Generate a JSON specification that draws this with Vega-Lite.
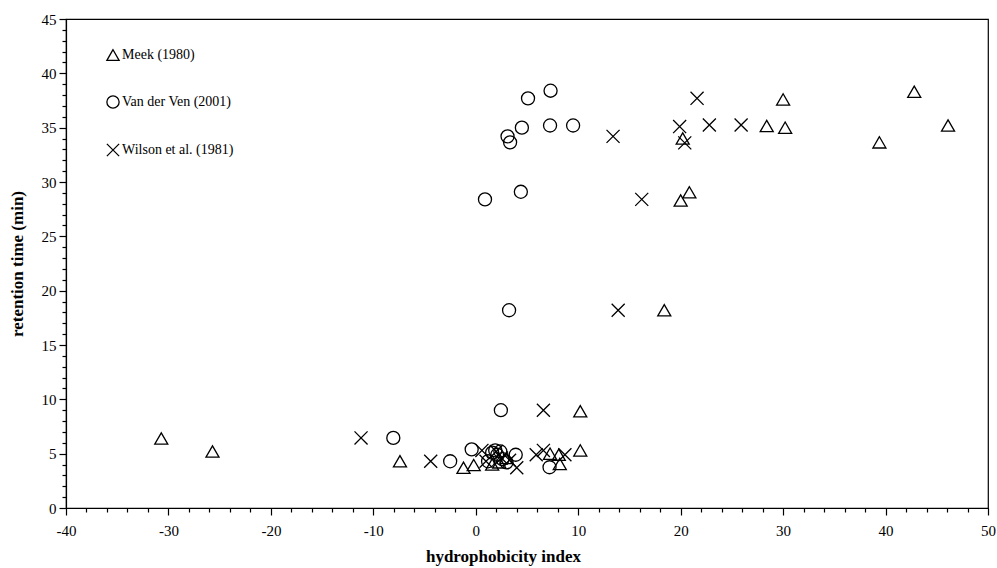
{
  "$schema": "https://vega.github.io/schema/vega-lite/v6.json",
  "width": 922,
  "height": 489,
  "autosize": {"type": "none"},
  "padding": {"left": 66, "top": 19, "right": 9, "bottom": 60},
  "background": "white",
  "config": {
    "view": {"stroke": "black", "strokeWidth": 1.2},
    "font": "Liberation Serif",
    "axis": {"labelFont": "Liberation Serif", "titleFont": "Liberation Serif", "domainColor": "black", "tickColor": "black", "labelColor": "black", "titleColor": "black", "grid": false}
  },
  "data": {
    "values": [
      {"study": "Meek (1980)", "x": 42.8, "y": 38.3},
      {"study": "Meek (1980)", "x": 30.0, "y": 37.6},
      {"study": "Meek (1980)", "x": 28.4, "y": 35.15},
      {"study": "Meek (1980)", "x": 30.2, "y": 35.0},
      {"study": "Meek (1980)", "x": 46.1, "y": 35.2},
      {"study": "Meek (1980)", "x": 20.2, "y": 34.0},
      {"study": "Meek (1980)", "x": 39.4, "y": 33.65},
      {"study": "Meek (1980)", "x": 20.85, "y": 29.05},
      {"study": "Meek (1980)", "x": 20.0, "y": 28.3},
      {"study": "Meek (1980)", "x": 18.4, "y": 18.2},
      {"study": "Meek (1980)", "x": 10.2, "y": 8.9},
      {"study": "Meek (1980)", "x": -30.7, "y": 6.4},
      {"study": "Meek (1980)", "x": -25.7, "y": 5.2},
      {"study": "Meek (1980)", "x": 10.2, "y": 5.3},
      {"study": "Meek (1980)", "x": -7.4, "y": 4.3},
      {"study": "Meek (1980)", "x": -1.2, "y": 3.7},
      {"study": "Meek (1980)", "x": -0.2, "y": 3.95},
      {"study": "Meek (1980)", "x": 1.6, "y": 4.0},
      {"study": "Meek (1980)", "x": 2.3, "y": 4.2},
      {"study": "Meek (1980)", "x": 3.0, "y": 4.6},
      {"study": "Meek (1980)", "x": 7.25, "y": 5.0},
      {"study": "Meek (1980)", "x": 8.1, "y": 4.9},
      {"study": "Meek (1980)", "x": 8.2, "y": 4.05},
      {"study": "Van der Ven (2001)", "x": 7.3, "y": 38.4},
      {"study": "Van der Ven (2001)", "x": 5.1, "y": 37.7},
      {"study": "Van der Ven (2001)", "x": 4.5, "y": 35.0},
      {"study": "Van der Ven (2001)", "x": 7.25, "y": 35.2},
      {"study": "Van der Ven (2001)", "x": 9.5, "y": 35.2},
      {"study": "Van der Ven (2001)", "x": 3.1, "y": 34.2},
      {"study": "Van der Ven (2001)", "x": 3.35, "y": 33.65},
      {"study": "Van der Ven (2001)", "x": 4.4, "y": 29.1},
      {"study": "Van der Ven (2001)", "x": 0.9, "y": 28.4},
      {"study": "Van der Ven (2001)", "x": 3.25, "y": 18.2},
      {"study": "Van der Ven (2001)", "x": 2.45, "y": 9.0},
      {"study": "Van der Ven (2001)", "x": -8.05, "y": 6.45},
      {"study": "Van der Ven (2001)", "x": -2.5, "y": 4.3},
      {"study": "Van der Ven (2001)", "x": -0.4, "y": 5.4},
      {"study": "Van der Ven (2001)", "x": 1.2, "y": 4.3},
      {"study": "Van der Ven (2001)", "x": 1.6, "y": 5.1},
      {"study": "Van der Ven (2001)", "x": 1.9, "y": 5.3},
      {"study": "Van der Ven (2001)", "x": 2.1, "y": 4.9},
      {"study": "Van der Ven (2001)", "x": 2.4, "y": 5.2},
      {"study": "Van der Ven (2001)", "x": 2.6, "y": 4.5},
      {"study": "Van der Ven (2001)", "x": 3.0, "y": 4.2},
      {"study": "Van der Ven (2001)", "x": 3.9, "y": 4.9},
      {"study": "Van der Ven (2001)", "x": 7.2, "y": 3.75},
      {"study": "Wilson et al. (1981)", "x": 21.6, "y": 37.7},
      {"study": "Wilson et al. (1981)", "x": 19.9, "y": 35.1},
      {"study": "Wilson et al. (1981)", "x": 22.8, "y": 35.25},
      {"study": "Wilson et al. (1981)", "x": 25.9, "y": 35.25},
      {"study": "Wilson et al. (1981)", "x": 13.4, "y": 34.2},
      {"study": "Wilson et al. (1981)", "x": 20.4, "y": 33.6},
      {"study": "Wilson et al. (1981)", "x": 16.2, "y": 28.4},
      {"study": "Wilson et al. (1981)", "x": 13.9, "y": 18.2},
      {"study": "Wilson et al. (1981)", "x": 6.6, "y": 9.0},
      {"study": "Wilson et al. (1981)", "x": -11.2, "y": 6.45},
      {"study": "Wilson et al. (1981)", "x": -4.4, "y": 4.3},
      {"study": "Wilson et al. (1981)", "x": 0.6, "y": 5.3},
      {"study": "Wilson et al. (1981)", "x": 1.0, "y": 4.3},
      {"study": "Wilson et al. (1981)", "x": 2.0, "y": 5.2},
      {"study": "Wilson et al. (1981)", "x": 2.5, "y": 4.6},
      {"study": "Wilson et al. (1981)", "x": 3.3, "y": 4.4},
      {"study": "Wilson et al. (1981)", "x": 4.0, "y": 3.7},
      {"study": "Wilson et al. (1981)", "x": 5.9, "y": 4.9},
      {"study": "Wilson et al. (1981)", "x": 6.6, "y": 5.3},
      {"study": "Wilson et al. (1981)", "x": 8.7, "y": 4.9}
    ]
  },
  "mark": {"type": "point", "filled": false, "color": "black", "strokeWidth": 1.3, "size": 170, "opacity": 1},
  "encoding": {
    "x": {
      "field": "x", "type": "quantitative",
      "scale": {"domain": [-40, 50], "nice": false, "zero": false},
      "axis": {
        "title": "hydrophobicity index",
        "titleFontSize": 17, "titleFontWeight": "bold", "titlePadding": 10, "titleX": 437,
        "values": [-40,-38,-36,-34,-32,-30,-28,-26,-24,-22,-20,-18,-16,-14,-12,-10,-8,-6,-4,-2,0,2,4,6,8,10,12,14,16,18,20,22,24,26,28,30,32,34,36,38,40,42,44,46,48,50],
        "labelExpr": "datum.value % 10 === 0 ? '' + datum.value : ''",
        "tickSize": {"condition": {"test": "datum.value % 10 === 0", "value": 7}, "value": 4},
        "labelFontSize": 15, "labelPadding": 8, "labelFlush": false, "labelOverlap": false,
        "tickWidth": 1.2, "domainWidth": 1.2
      }
    },
    "y": {
      "field": "y", "type": "quantitative",
      "scale": {"domain": [0, 45], "nice": false, "zero": true},
      "axis": {
        "title": "retention time (min)",
        "titleFontSize": 17, "titleFontWeight": "bold", "titlePadding": 15,
        "values": [0,1,2,3,4,5,6,7,8,9,10,11,12,13,14,15,16,17,18,19,20,21,22,23,24,25,26,27,28,29,30,31,32,33,34,35,36,37,38,39,40,41,42,43,44,45],
        "labelExpr": "datum.value % 5 === 0 ? '' + datum.value : ''",
        "tickSize": {"condition": {"test": "datum.value % 5 === 0", "value": 7}, "value": 4},
        "labelFontSize": 15, "labelPadding": 3, "labelFlush": false, "labelOverlap": false,
        "tickWidth": 1.2, "domainWidth": 1.2
      }
    },
    "shape": {
      "field": "study", "type": "nominal",
      "scale": {"domain": ["Meek (1980)", "Van der Ven (2001)", "Wilson et al. (1981)"], "range": ["triangle-up", "circle", "M-1,-1L1,1M-1,1L1,-1"]},
      "legend": {
        "title": null, "orient": "none", "legendX": 40, "legendY": 29, "padding": 0,
        "rowPadding": 30, "labelFontSize": 14, "labelFont": "Liberation Serif", "labelColor": "black",
        "labelOffset": 2, "symbolSize": 150, "symbolStrokeWidth": 1.3, "symbolStrokeColor": "black", "symbolFillColor": "transparent"
      }
    }
  }
}
